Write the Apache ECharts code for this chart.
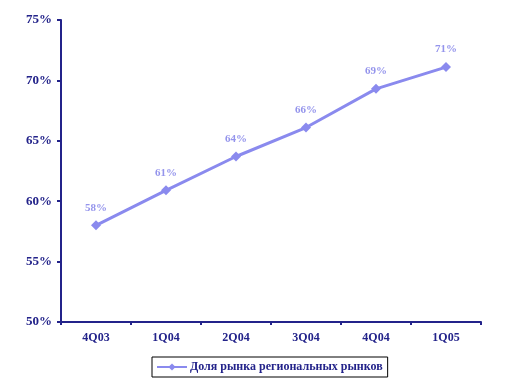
<!DOCTYPE html>
<html><head><meta charset="utf-8">
<script src="https://cdn.jsdelivr.net/npm/echarts@6/dist/echarts.min.js"></script>
<style>html,body{margin:0;padding:0;background:#fff}#c{width:518px;height:387px}</style>
</head><body><div id="c"></div>
<script>
const categories = ["4Q03", "1Q04", "2Q04", "3Q04", "4Q04", "1Q05"];
const shareValues = [58.0, 60.9, 63.7, 66.1, 69.3, 71.1];
const pointLabels = ["58%", "61%", "64%", "66%", "69%", "71%"];
const seriesName = "Доля рынка региональных рынков";

const chart = echarts.init(document.getElementById('c'));
const axisColor = '#23238a';
chart.setOption({
  animation: false,
  backgroundColor: '#ffffff',
  grid: { left: 61, right: 37, top: 20, bottom: 65 },
  legend: {
    data: [seriesName],
    top: 357, left: 152,
    borderColor: '#000', borderWidth: 1, borderRadius: 0,
    padding: [4, 5, 4, 4],
    itemWidth: 30, itemHeight: 9, itemGap: 2,
    textStyle: { fontFamily: 'Liberation Serif', fontWeight: 'bold', fontSize: 12, color: axisColor, padding: [0, 0, 0, -2] }
  },
  xAxis: {
    type: 'category', data: categories, boundaryGap: true,
    axisLine: { lineStyle: { color: axisColor, width: 2 } },
    axisTick: { show: true, length: 3, lineStyle: { color: axisColor, width: 2 } },
    axisLabel: { margin: 10, fontFamily: 'Liberation Serif', fontWeight: 'bold', fontSize: 12, color: axisColor }
  },
  yAxis: {
    type: 'value', min: 50, max: 75, interval: 5,
    axisLine: { show: true, lineStyle: { color: axisColor, width: 2 } },
    axisTick: { show: true, length: 4, lineStyle: { color: axisColor, width: 2 } },
    splitLine: { show: false },
    axisLabel: { margin: 9, formatter: v => v + '%', fontFamily: 'Liberation Serif', fontWeight: 'bold', fontSize: 13, color: axisColor }
  },
  series: [{
    name: seriesName, type: 'line', data: shareValues,
    symbol: 'diamond', symbolSize: 10,
    lineStyle: { color: '#8a8aee', width: 3 },
    itemStyle: { color: '#8a8aee' },
    label: {
      show: true, position: 'top', distance: 7,
      formatter: p => pointLabels[p.dataIndex],
      fontFamily: 'Liberation Serif', fontWeight: 'bold', fontSize: 11, color: '#9494ec'
    }
  }]
});
</script></body></html>
